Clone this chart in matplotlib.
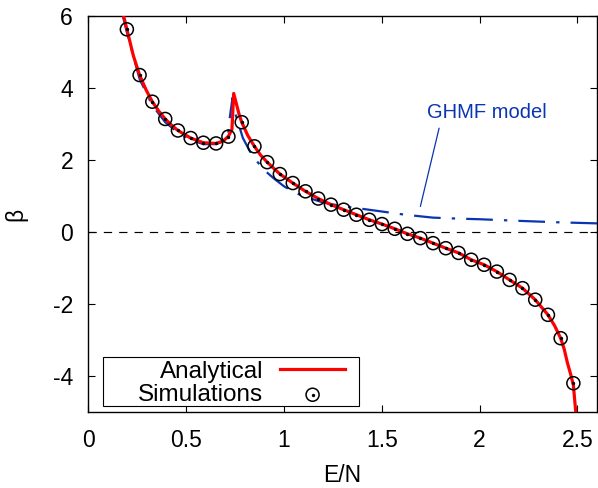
import matplotlib

matplotlib.use("Agg")
import matplotlib.pyplot as plt
from matplotlib.legend_handler import HandlerTuple
from matplotlib.patches import Rectangle

# simulation points (E/N, beta)
e_sim = [0.197, 0.262, 0.327, 0.393, 0.458, 0.523, 0.588, 0.653, 0.716, 0.784,
         0.849, 0.914, 0.979, 1.045, 1.110, 1.175, 1.240, 1.305, 1.370, 1.436,
         1.501, 1.566, 1.631, 1.697, 1.762, 1.827, 1.892, 1.957, 2.023, 2.088,
         2.153, 2.219, 2.284, 2.349, 2.414, 2.479]
beta_sim = [5.63, 4.36, 3.62, 3.14, 2.82, 2.61, 2.48, 2.46, 2.65, 3.05,
            2.38, 1.94, 1.61, 1.36, 1.13, 0.93, 0.76, 0.62, 0.48, 0.34,
            0.22, 0.09, -0.05, -0.17, -0.31, -0.45, -0.58, -0.77, -0.91, -1.10,
            -1.33, -1.56, -1.88, -2.30, -2.95, -4.20]

# analytical curve
e_an = [0.175, 0.197, 0.230, 0.262, 0.295, 0.327, 0.360, 0.393, 0.425, 0.458,
        0.523, 0.588, 0.653, 0.690, 0.716, 0.734, 0.743, 0.770, 0.784, 0.815,
        0.849, 0.880, 0.914, 0.979, 1.045, 1.110, 1.175, 1.240, 1.305, 1.370,
        1.436, 1.501, 1.566, 1.631, 1.697, 1.762, 1.827, 1.892, 1.957, 2.023,
        2.088, 2.153, 2.219, 2.284, 2.349, 2.383, 2.414, 2.432, 2.448, 2.465,
        2.479, 2.492]
beta_an = [6.12, 5.63, 4.90, 4.36, 3.95, 3.62, 3.36, 3.14, 2.97, 2.82,
           2.61, 2.48, 2.46, 2.53, 2.66, 2.85, 3.85, 3.28, 3.05, 2.68,
           2.38, 2.14, 1.94, 1.61, 1.36, 1.13, 0.93, 0.76, 0.62, 0.48,
           0.34, 0.22, 0.09, -0.05, -0.17, -0.31, -0.45, -0.58, -0.77, -0.91,
           -1.10, -1.33, -1.56, -1.88, -2.30, -2.60, -2.95, -3.25, -3.62, -3.95,
           -4.25, -5.05]

# GHMF model curve
e_ghmf = [0.172, 0.197, 0.262, 0.327, 0.393, 0.458, 0.523, 0.588, 0.653, 0.690,
          0.715, 0.722, 0.737, 0.750, 0.790, 0.830, 0.855, 0.897, 0.950, 1.000,
          1.060, 1.125, 1.200, 1.305, 1.365, 1.500, 1.620, 1.760, 1.900, 2.000,
          2.200, 2.400, 2.600]
beta_ghmf = [6.10, 5.55, 4.25, 3.52, 3.05, 2.76, 2.56, 2.44, 2.44, 2.52,
             2.75, 3.14, 3.73, 3.31, 2.61, 2.20, 2.01, 1.73, 1.48, 1.27,
             1.08, 0.95, 0.82, 0.71, 0.67, 0.57, 0.48, 0.40, 0.37, 0.355,
             0.31, 0.27, 0.24]

x_ticks = [0, 0.5, 1, 1.5, 2, 2.5]
x_labels = ["0", "0.5", "1", "1.5", "2", "2.5"]
y_ticks = [-4, -2, 0, 2, 4, 6]

BLUE = "#0a35b0"


def main() -> None:
    plt.rcParams["font.family"] = ["Liberation Sans", "DejaVu Sans"]
    plt.rcParams["axes.unicode_minus"] = False

    fig = plt.figure(figsize=(5.98, 4.88), dpi=100)
    ax = fig.add_axes([0.1477, 0.1557, 0.8507, 0.8115])

    ax.axhline(0, color="black", lw=0.85, linestyle=(0, (7, 6)), zorder=1)
    ax.plot(e_ghmf, beta_ghmf, color=BLUE, lw=1.6, linestyle=(0, (12, 5, 1.5, 5)), zorder=2)
    (red,) = ax.plot(e_an, beta_an, color="red", lw=2.3, zorder=3, label="Analytical")
    circ = ax.scatter(e_sim, beta_sim, s=88, facecolors="none", edgecolors="black",
                      linewidths=1.1, zorder=4)
    dots = ax.scatter(e_sim, beta_sim, s=2, color="black", zorder=4)

    ax.annotate("GHMF model", xy=(1.697, 0.71), xytext=(2.039, 3.32),
                ha="center", va="center", color=BLUE, fontsize=14.5,
                arrowprops=dict(arrowstyle="-", color=BLUE, lw=0.9,
                                shrinkA=2.5, shrinkB=0, relpos=(0.11, 0.0)))

    ax.set_xlim(0, 2.6)
    ax.set_ylim(-5, 6)
    ax.set_xticks(x_ticks, x_labels)
    ax.set_yticks(y_ticks)
    ax.tick_params(direction="in", length=4.8, width=0.8, top=True, right=True,
                   labelsize=16.5, colors="black")
    ax.tick_params(axis="x", pad=12)
    ax.tick_params(axis="y", pad=11)
    for sp in ax.spines.values():
        sp.set_linewidth(1.0)

    ax.set_xlabel("E/N", fontsize=16.5, labelpad=9)
    ax.set_ylabel("β", fontsize=16.5, labelpad=18)

    # gnuplot-style key: right-aligned labels, sample on the right, square box
    ax.add_patch(Rectangle((0.0283, 0.0152), 0.5044, 0.1230, transform=ax.transAxes,
                           facecolor="white", edgecolor="black", lw=0.8, zorder=5))
    leg = ax.legend([red, (circ, dots)], ["Analytical", "Simulations"],
                    handler_map={tuple: HandlerTuple(ndivide=1)},
                    loc="lower right", bbox_to_anchor=(0.5046, 0.0149),
                    borderaxespad=0, markerfirst=False, fontsize=17.5,
                    handlelength=2.67, handletextpad=0.7, labelspacing=0.05,
                    borderpad=0, frameon=False)
    leg.set_zorder(6)

    fig.savefig("out.png", dpi=100)
    plt.close(fig)


if __name__ == "__main__":
    main()
